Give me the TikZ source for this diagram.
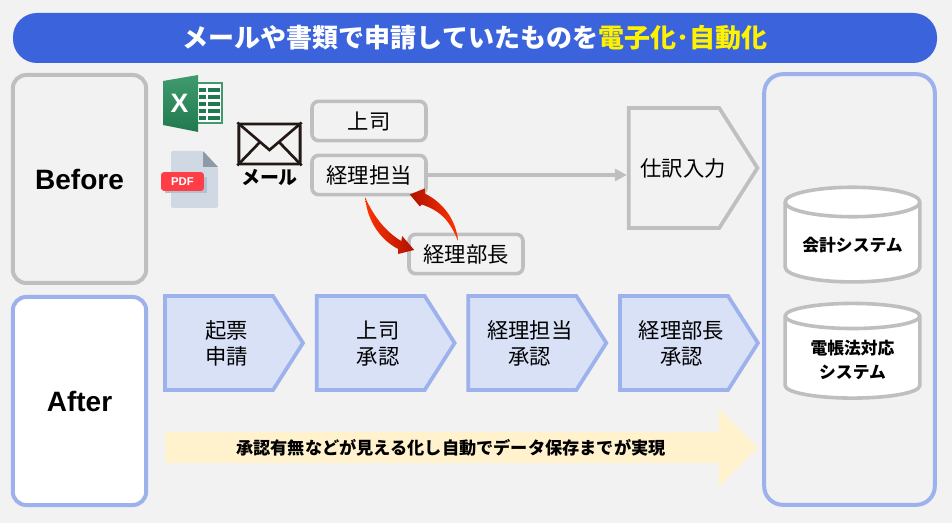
\documentclass[tikz,border=0pt]{standalone}
\usepackage{xcolor}
\usepackage{fontspec}
\setmainfont{Noto Sans CJK JP}
\newfontfamily\latinfont{Liberation Sans}
\usetikzlibrary{shapes,shapes.geometric,shapes.arrows,arrows.meta,positioning,calc}

\definecolor{backgray}{HTML}{F2F2F2}
\definecolor{titleblue}{HTML}{3B63DB}
\definecolor{linegray}{HTML}{BFBFBF}
\definecolor{lineblue}{HTML}{9DB2EC}
\definecolor{fillblue}{HTML}{D9E1F7}
\definecolor{fillyellow}{HTML}{FFF2CC}
\definecolor{inkblack}{HTML}{231815}
\definecolor{xlsgreen}{HTML}{217A4F}
\definecolor{xlslight}{HTML}{3F9A6E}
\definecolor{pdfpage}{HTML}{CFD8E3}
\definecolor{pdffold}{HTML}{8C9AA9}
\definecolor{pdfshade}{HTML}{B5C0CE}
\definecolor{pdfred}{HTML}{FF3D47}
\definecolor{arrowbright}{HTML}{FF3300}
\definecolor{arrowdark}{HTML}{B01000}

\newcommand{\steplabel}[2][11.25pt]{\hspace*{#1}\makebox[0pt]{\raisebox{-6.5pt}[0pt][0pt]{\begin{tabular}{@{}c@{}}#2\end{tabular}}}}

\tikzset{
  panelbox/.style={rectangle, rounded corners=10pt, line width=3pt, minimum width=100pt, minimum height=156pt, font=\latinfont\bfseries\fontsize{21}{24}\selectfont},
  rolebox/.style={rectangle, rounded corners=5pt, draw=linegray, line width=2.7pt, fill=backgray, minimum width=85.5pt, minimum height=29.5pt, font=\fontsize{16}{20}\selectfont},
  stepsig/.style={signal, signal to=east, signal pointer angle=115, draw=lineblue, fill=fillblue, line width=2.8pt, minimum width=103.5pt, minimum height=70.5pt, inner sep=0pt, font=\fontsize{16}{19.5}\selectfont},
  dbcyl/.style={cylinder, shape border rotate=90, aspect=0.27, draw=linegray, line width=2.7pt, cylinder uses custom fill, cylinder body fill=white, cylinder end fill=white, minimum width=101pt, minimum height=71pt, align=center, font=\bfseries\fontsize{12.6}{18}\selectfont},
}

\begin{document}
\begin{tikzpicture}[x=0.75pt, y=-0.75pt, node distance=113.75pt]
\useasboundingbox (0,0) rectangle (952,523);
\fill[backgray] (0,0) rectangle (952,523);

% title and panels
\node (title) [rectangle, rounded corners=18pt, fill=titleblue, text=white, minimum width=693pt, minimum height=37.5pt, font=\bfseries\fontsize{19.5}{24}\selectfont] at (475,38) {メールや書類で申請していたものを\textcolor{yellow}{電子化･自動化}};
\node (before) [panelbox, draw=linegray, fill=backgray] at (79.5,179) {Before};
\node (after) [panelbox, draw=lineblue, fill=white] at (79.5,401) {After};
\node (system) [rectangle, rounded corners=14pt, draw=lineblue, line width=3pt, fill=backgray, minimum width=128pt, minimum height=323pt] at (849.5,289.5) {};

% before side
\node (joshi) [rolebox] at (369,121) {上司};
\node (tanto) [rolebox, below of=joshi, node distance=40.5pt] {経理担当};
\node (bucho) [rolebox] at (466,254) {経理部長};
\node (shiwake) [stepsig, draw=linegray, fill=backgray, minimum width=96.5pt, minimum height=90pt] at (674,168) {\steplabel[13.5pt]{仕訳入力}};

\draw[-{Triangle[length=9pt, width=9pt]}, linegray, line width=2.6pt] (tanto.east) -- (tanto.east -| shiwake.west);

% red arrows between the two roles
\coordinate (a1) at ($(tanto.south west)+(55,1)$);
\coordinate (a2) at ($(bucho.west)+(7,-4)$);
\coordinate (b1) at ($(bucho.north west)+(51,9)$);
\coordinate (b2) at ($(tanto.south east)+(-18,-2)$);
\shade[left color=arrowbright, right color=arrowdark]
  (a1) .. controls ($(a1)+(2,25)$) and ($(a2)+(-32,-9)$) .. ($(a2)+(-16,-1)$)
  -- ($(a2)+(-16,4)$) -- (a2) -- ($(a2)+(-12,-14)$) -- ($(a2)+(-13,-9)$)
  .. controls ($(a2)+(-28,-18)$) and ($(a1)+(9,20)$) .. (a1) -- cycle;
\shade[left color=arrowdark, right color=arrowbright]
  (b1) .. controls ($(b1)+(-9,-23)$) and ($(b2)+(29,16)$) .. ($(b2)+(12,10)$)
  -- ($(b2)+(10,12)$) -- (b2) -- ($(b2)+(15,-6)$) -- ($(b2)+(15,-1)$)
  .. controls ($(b2)+(33,8)$) and ($(b1)+(-2,-22)$) .. (b1) -- cycle;

% file icons and mail
\draw[xlslight, line width=1pt, fill=white] (197,83) rectangle (222,123);
\foreach \rowy in {89,96,103,110,117} {
  \fill[xlsgreen] (199,\rowy-1) rectangle (206,\rowy+3);
  \fill[xlsgreen] (208,\rowy-1) rectangle (220,\rowy+3);
}
\shade[top color=xlslight, bottom color=xlsgreen] (163,81) -- (198,75) -- (198,132) -- (163,125) -- cycle;
\node (xmark) [text=white, font=\latinfont\bfseries\fontsize{20}{22}\selectfont] at (179.5,103) {X};

\fill[rounded corners=1.5pt, fill=pdfpage] (171,151) -- (203,151) -- (218,167) -- (218,208) -- (171,208) -- cycle;
\fill[pdffold] (203,151) -- (218,167) -- (203,167) -- cycle;
\fill[pdfshade] (165,177) rectangle (207,193);
\node (pdf) [rectangle, rounded corners=2pt, fill=pdfred, text=white, minimum width=32pt, minimum height=14pt, inner sep=0pt, font=\latinfont\bfseries\fontsize{8.5}{10}\selectfont] at (182.5,181.5) {PDF};

\node (mailbox) [rectangle, rounded corners=1.5pt, draw=inkblack, line width=2.2pt, minimum width=46pt, minimum height=30pt] at (269.5,144) {};
\draw[inkblack, line width=2pt] (mailbox.north west) -- (269.5,150) -- (mailbox.north east);
\draw[inkblack, line width=2pt] (mailbox.south west) -- (260,142);
\draw[inkblack, line width=2pt] (mailbox.south east) -- (279,142);
\node (mail) [below of=mailbox, node distance=25pt, font=\bfseries\fontsize{14.2}{16}\selectfont] {メール};

% after side
\node (kihyo) [stepsig] at (219,343) {\steplabel{起票\\申請}};
\node (joshi2) [stepsig, right of=kihyo] {\steplabel{上司\\承認}};
\node (tanto2) [stepsig, right of=joshi2] {\steplabel{経理担当\\承認}};
\node (bucho2) [stepsig, right of=tanto2] {\steplabel{経理部長\\承認}};

\node (result) [single arrow, fill=fillyellow, single arrow head extend=10pt, single arrow head indent=0pt, inner sep=0pt, minimum width=58pt, minimum height=444pt, font=\bfseries\fontsize{12.9}{16}\selectfont] at (454,447.5) {承認有無などが見える化し自動でデータ保存までが実現\hspace*{4.5pt}};

% system side
\node (kaikei) [dbcyl] at (852.5,245.5) {会計システム};
\node (denchoho) [dbcyl, below of=kaikei, node distance=86pt] {電帳法対応\\システム};
\end{tikzpicture}
\end{document}
